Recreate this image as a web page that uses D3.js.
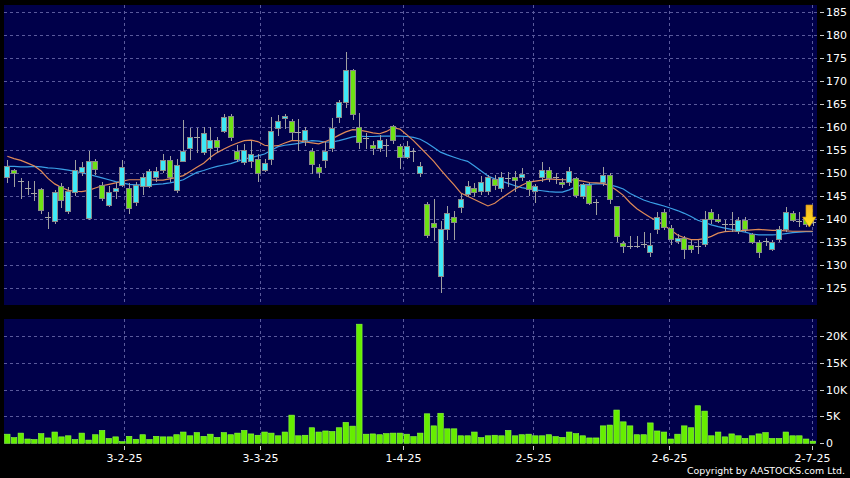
<!DOCTYPE html>
<html><head><meta charset="utf-8">
<script src="https://cdn.jsdelivr.net/npm/d3@7"></script>
<style>html,body{margin:0;padding:0;background:#000;} svg{display:block}</style>
</head><body><svg id="c" width="850" height="478"></svg>
<script>
// ---- data ----
const open = [149.1,150.7,148.4,146.9,145.8,146.5,140.6,139.6,147.3,141.7,
145.9,150.2,140.2,152.6,147.5,143.1,146.1,147.5,146.8,143.8,
147.2,147.3,149.1,150.7,152.8,146.3,152.7,155.4,157.8,154.7,
155.4,157.2,159.3,162.5,154.9,152.4,152.7,153.2,150.7,153.1,
159.8,162.0,161.4,158.9,157.3,154.8,151.4,153.0,155.4,162.3,
165.4,172.5,160.1,157.6,156.2,155.5,156.2,160.3,155.9,153.6,
154.8,150.1,143.3,139.1,127.7,137.8,140.6,142.7,145.6,146.7,
146.2,146.2,148.7,146.7,148.9,149.3,149.3,148.4,146.2,149.1,
150.8,149.1,148.2,148.1,148.9,145.1,147.5,143.7,148.1,149.7,
142.9,134.9,134.1,134.3,134.7,133.0,138.0,141.5,138.2,135.2,
136.0,134.5,134.2,134.7,141.6,140.0,138.9,138.9,137.5,139.9,
136.9,135.0,135.2,133.6,135.8,137.8,141.3,139.6,140.3,139.4];
const close = [151.5,150.1,148.4,146.9,145.8,142.1,140.6,145.9,144.1,146.2,
150.7,151.3,152.6,150.9,144.7,145.9,146.8,151.3,142.4,147.4,
149.1,150.6,150.6,152.8,149.1,151.9,154.9,157.8,157.8,158.8,
157.2,155.8,162.3,157.8,153.1,155.1,154.3,150.0,152.3,159.2,
161.4,162.5,159.0,158.9,159.5,152.1,150.2,154.8,159.9,165.4,
172.5,162.8,156.8,157.6,155.6,157.2,156.2,157.2,153.6,155.9,
154.8,151.5,136.5,138.4,137.8,141.3,139.4,144.4,147.3,145.9,
148.2,149.1,147.4,149.3,148.9,148.6,149.9,146.6,147.3,150.8,
148.9,149.1,147.7,150.6,145.3,147.7,143.5,143.7,149.7,144.5,
136.3,134.3,134.1,134.3,134.7,134.5,140.5,138.3,135.8,136.0,
133.6,133.6,134.2,140.0,140.0,139.6,138.9,138.9,139.8,138.0,
135.0,133.0,135.2,135.0,137.8,141.5,139.8,139.6,138.9,139.4];
const high = [152.8,151.0,149.0,148.3,148.3,146.9,141.5,146.4,148.0,147.0,
152.9,152.5,154.8,153.1,148.1,147.2,148.1,152.9,147.8,148.1,
149.9,151.0,151.4,154.2,153.8,153.1,161.5,159.8,159.8,160.0,
160.1,157.9,163.0,162.8,156.2,156.3,157.1,154.3,153.1,162.3,
162.6,162.8,161.8,161.7,160.1,155.6,152.0,156.8,162.0,165.9,
176.4,172.6,163.2,158.7,157.1,158.3,157.4,160.6,156.3,157.0,
155.5,152.5,143.7,144.4,139.6,142.9,141.7,145.4,148.4,148.0,
149.5,149.6,149.6,150.2,150.2,150.4,151.2,148.6,147.7,152.5,
151.4,150.0,149.0,151.3,149.2,148.0,148.0,144.4,151.3,150.0,
142.9,135.2,136.3,136.4,137.2,137.1,141.5,142.2,138.7,136.8,
136.3,135.6,135.6,141.8,142.3,141.2,139.8,141.5,140.4,140.4,
137.1,135.6,136.0,135.6,138.5,142.6,141.8,141.5,140.8,140.0];
const low = [148.1,147.3,144.7,145.4,144.3,141.4,138.2,139.2,142.6,141.3,
145.2,149.7,140.0,149.8,144.2,142.9,144.7,147.3,141.4,143.1,
145.6,147.0,148.4,150.2,148.4,146.0,152.6,153.2,154.7,154.3,
153.2,154.6,159.0,157.2,152.6,152.1,151.3,148.4,150.5,152.1,
158.4,159.8,157.4,155.1,156.1,150.1,149.1,151.3,154.8,161.2,
164.4,161.9,155.4,155.4,154.1,154.8,153.8,156.5,151.2,153.3,
152.6,149.5,136.2,135.6,124.3,135.8,135.8,141.6,145.1,145.1,
145.5,145.5,146.6,146.2,147.3,146.2,148.5,145.3,143.7,148.4,
148.4,148.0,147.0,147.5,144.8,144.7,143.3,141.1,147.4,143.6,
135.2,133.0,133.8,134.0,134.0,132.0,137.1,137.8,134.6,134.9,
131.6,132.9,132.7,134.2,139.1,139.4,137.4,137.4,137.1,137.4,
134.9,131.9,134.5,133.4,135.2,137.4,139.6,138.5,138.6,138.8];
// volume in thousands
const volume = [1.7,1.06,1.9,0.8,0.7,1.8,1.0,2.1,1.2,1.4,
0.7,1.9,0.6,1.6,2.4,0.9,1.2,0.3,1.3,0.75,
1.6,0.7,1.3,1.2,1.2,1.6,2.1,1.4,2.0,1.3,
1.7,1.1,2.0,1.6,1.9,2.4,1.75,1.5,2.1,1.9,
1.4,2.1,5.25,1.4,1.5,2.9,2.1,2.3,2.2,2.9,
3.9,3.2,22.2,1.7,1.75,1.6,1.8,1.9,1.9,1.7,
1.25,1.9,5.5,3.25,5.6,2.7,2.7,1.4,1.4,2.1,
1.06,1.4,1.5,1.4,2.4,1.4,1.6,1.7,1.4,1.4,
1.6,1.25,1.1,2.1,1.8,1.4,1.0,1.0,3.25,3.4,
6.2,4.0,3.25,1.6,1.6,3.8,2.3,2.1,0.8,1.7,
3.25,2.9,7.0,6.0,1.4,2.1,1.2,1.75,1.4,0.9,
1.4,1.75,2.0,0.9,0.9,2.1,1.4,1.4,0.8,0.4];
const ma10 = [153.7,153.2,152.8,152.2,151.6,150.5,148.9,147.7,146.9,146.3,
146.1,146.0,146.3,146.8,147.3,147.6,147.9,148.3,148.6,148.6,
148.6,148.6,148.5,148.5,148.8,149.1,149.5,150.4,151.3,152.2,
153.5,154.5,155.3,156.0,156.6,157.1,157.2,156.9,156.1,155.9,
156.0,156.6,157.1,157.1,156.8,156.6,156.4,156.9,157.5,158.3,
159.0,159.5,159.4,159.1,158.8,158.6,159.1,159.9,159.6,158.4,
157.1,155.6,154.1,152.6,150.8,149.1,147.5,145.7,145.0,144.3,
143.6,142.9,143.5,144.6,145.6,146.6,147.4,148.1,148.3,148.5,
148.8,148.7,148.6,148.6,148.5,148.3,148.0,147.9,147.8,147.3,
146.3,145.2,143.6,142.3,141.3,140.4,139.6,138.7,137.7,136.6,
136.0,135.6,135.6,135.8,136.3,137.0,137.3,137.4,137.5,137.6,
137.7,137.8,137.7,137.6,137.6,137.5,137.4,137.4,137.4,137.4];
const ma20 = [151.5,151.5,151.4,151.4,151.5,151.4,151.2,151.1,150.9,150.7,
150.4,150.1,149.8,149.4,149.0,148.6,148.2,147.9,147.6,147.5,
147.5,147.5,147.6,147.7,147.9,148.2,148.6,149.4,150.2,150.6,
151.1,151.5,151.8,152.1,152.6,153.1,153.4,153.8,154.2,155.0,
155.8,156.1,156.3,156.5,156.8,157.1,157.0,156.8,156.8,157.1,
157.5,157.9,158.1,158.0,158.0,158.1,158.1,158.1,158.1,158.0,
157.8,157.4,156.6,155.6,154.6,154.0,153.5,153.0,152.6,151.6,
150.5,149.4,148.8,148.3,147.8,147.3,146.9,146.6,146.4,146.2,
146.0,145.9,145.9,146.4,147.1,147.5,147.6,147.7,147.7,147.5,
147.1,146.6,145.6,144.9,144.2,143.7,143.3,142.9,142.4,141.9,
141.3,140.6,139.8,139.3,138.8,138.4,138.1,137.8,137.5,137.2,
136.8,136.6,136.6,136.6,136.7,136.9,137.1,137.2,137.3,137.3];
const dateTickIdx = [17.3, 37.4, 58.5, 77.6, 97.7, 118.9];
const dateTickLabels = ["3-2-25","3-3-25","1-4-25","2-5-25","2-6-25","2-7-25"];
const priceTicks = [125,130,135,140,145,150,155,160,165,170,175,180,185];
const volTicks = [0,5,10,15,20];
const volTickLabels = ["0","5K","10K","15K","20K"];

// ---- layout ----
const n = close.length;
const svg = d3.select("#c");
const L = 4, R = 817;
const pTop = 5, pBot = 305, vTop = 319, vBot = 444;
const FONT = "DejaVu Sans, Verdana, sans-serif";

const x = d3.scaleLinear().domain([0, n-1]).range([7.3, 812.9]);
const yP = d3.scaleLinear().domain([125,185]).range([288.3, 12.3]);
const yV = d3.scaleLinear().domain([0,20]).range([443.3, 336]);

svg.append("rect").attr("width",850).attr("height",478).attr("fill","#000");
svg.append("rect").attr("x",L).attr("y",pTop).attr("width",R-L).attr("height",pBot-pTop).attr("fill","#00004a");
svg.append("rect").attr("x",L).attr("y",vTop).attr("width",R-L).attr("height",vBot-vTop).attr("fill","#00004a");

const gridC = "#5a5a9c";
const grid = svg.append("g").attr("stroke",gridC).attr("stroke-width",1).attr("stroke-dasharray","3,3").attr("shape-rendering","crispEdges");
priceTicks.forEach(p => {
  const yy = Math.round(yP(p))+0.5;
  grid.append("line").attr("x1",L).attr("x2",R).attr("y1",yy).attr("y2",yy);
});
volTicks.filter(v=>v>0).forEach(v => {
  const yy = Math.round(yV(v))+0.5;
  grid.append("line").attr("x1",L).attr("x2",R).attr("y1",yy).attr("y2",yy);
});
dateTickIdx.forEach(t => {
  const xx = Math.round(x(t))+0.5;
  grid.append("line").attr("x1",xx).attr("x2",xx).attr("y1",pTop).attr("y2",pBot);
  grid.append("line").attr("x1",xx).attr("x2",xx).attr("y1",vTop).attr("y2",vBot);
});

// moving averages
const line = d3.line().x((d,i)=>x(i)).y(d=>yP(d)).curve(d3.curveLinear);
svg.append("path").datum(ma20).attr("d",line).attr("fill","none").attr("stroke","#3a9fe6").attr("stroke-width",1.2);
svg.append("path").datum(ma10).attr("d",line).attr("fill","none").attr("stroke","#e08a58").attr("stroke-width",1.2);

// candles
const UP = "#3ee8f6", DOWN = "#6ee214", WICK = "#a0a0a0", EDGE = "#8a8a8a";
const cg = svg.append("g").attr("shape-rendering","crispEdges");
for (let i=0;i<n;i++){
  const r = Math.round(x(i));
  const wx = r + 0.5;
  cg.append("line").attr("x1",wx).attr("x2",wx)
    .attr("y1",Math.round(yP(high[i]))).attr("y2",Math.round(yP(low[i]))+1)
    .attr("stroke",WICK).attr("stroke-width",1);
  if (open[i] === close[i]) {
    const yy = Math.round(yP(open[i]))+0.5;
    cg.append("line").attr("x1",r-3).attr("x2",r+3).attr("y1",yy).attr("y2",yy)
      .attr("stroke","#a8a8a8").attr("stroke-width",1);
  } else {
    const t = Math.round(yP(Math.max(open[i],close[i])))+0.5;
    const b = Math.round(yP(Math.min(open[i],close[i])))+0.5;
    cg.append("rect").attr("x",r-2.5).attr("y",t).attr("width",5).attr("height",Math.max(1,b-t))
      .attr("fill", close[i]>open[i] ? UP : DOWN).attr("stroke",EDGE).attr("stroke-width",1);
  }
}

// volume bars
const vg = svg.append("g");
volume.forEach((v,i) => {
  vg.append("rect").attr("x",x(i)-2.75).attr("y",yV(v)).attr("width",5.5).attr("height",yV(0)-yV(v))
    .attr("fill","#66ee00").attr("stroke","#8cff40").attr("stroke-width",0.6);
});

// last-price arrow
const arrX = x(n-1)-3.6, arrY = yP(close[n-1]);
const defs = svg.append("defs");
const grad = defs.append("linearGradient").attr("id","ag").attr("x1",0).attr("y1",0).attr("x2",0).attr("y2",1);
grad.append("stop").attr("offset","0%").attr("stop-color","#f5b025");
grad.append("stop").attr("offset","100%").attr("stop-color","#ffe61a");
const arrTop = arrY-17, arrTip = arrY+5, arrHead = arrY-5;
svg.append("path")
  .attr("d",`M${arrX-3.3},${arrTop} L${arrX+3.3},${arrTop} L${arrX+3.3},${arrHead} L${arrX+6.7},${arrHead} L${arrX},${arrTip} L${arrX-6.7},${arrHead} L${arrX-3.3},${arrHead} Z`)
  .attr("fill","url(#ag)").attr("stroke","#d09a10").attr("stroke-width",0.7);

// right axes
const axG = svg.append("g").attr("font-family",FONT).attr("font-size",11).attr("fill","#fff");
priceTicks.forEach(p => {
  const yy = Math.round(yP(p))+0.5;
  axG.append("line").attr("x1",820).attr("x2",824).attr("y1",yy).attr("y2",yy).attr("stroke","#ccc").attr("stroke-width",1);
  axG.append("text").attr("x",826).attr("y",yy).attr("dy","0.36em").text(p);
});
volTicks.forEach((v,k) => {
  const yy = Math.round(yV(v))+0.5;
  axG.append("line").attr("x1",820).attr("x2",824).attr("y1",yy).attr("y2",yy).attr("stroke","#ccc").attr("stroke-width",1);
  axG.append("text").attr("x",826).attr("y",yy).attr("dy","0.36em").text(volTickLabels[k]);
});
// bottom axis
dateTickIdx.forEach((t,k) => {
  const xx = Math.round(x(t))+0.5;
  axG.append("line").attr("x1",xx).attr("x2",xx).attr("y1",446).attr("y2",450).attr("stroke","#ccc").attr("stroke-width",1);
  axG.append("text").attr("x",xx).attr("y",461.5).attr("text-anchor","middle").text(dateTickLabels[k]);
});
svg.append("text").attr("x",845).attr("y",474).attr("text-anchor","end")
  .attr("font-family",FONT).attr("font-size",9.5).attr("fill","#fff")
  .attr("textLength",158).attr("lengthAdjust","spacingAndGlyphs")
  .text("Copyright by AASTOCKS.com Ltd.");
</script></body></html>
